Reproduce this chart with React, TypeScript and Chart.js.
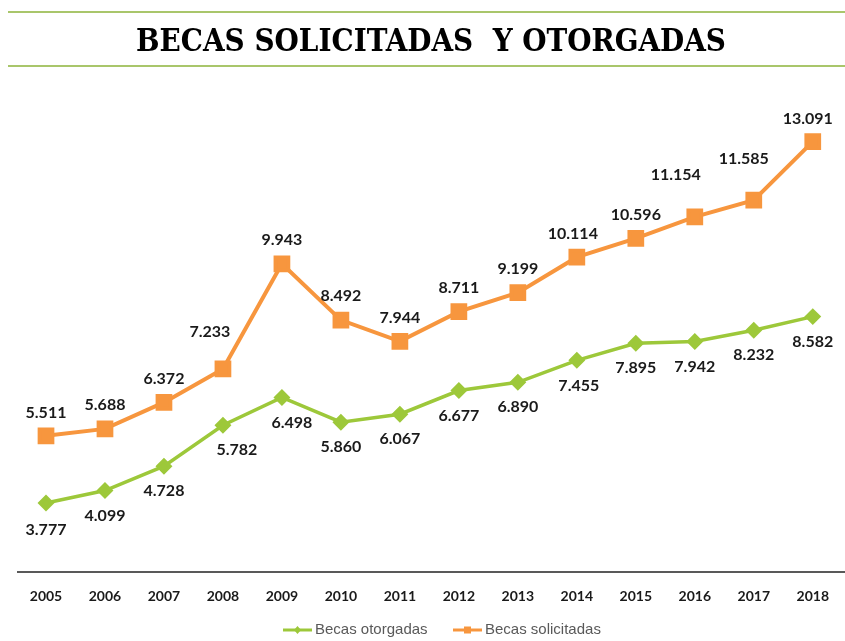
import React, { useEffect, useRef } from "react";
import { Chart, registerables } from "chart.js";

Chart.register(...registerables);

const years = ["2005","2006","2007","2008","2009","2010","2011","2012","2013","2014","2015","2016","2017","2018"];
const otorgadas = [3777, 4099, 4728, 5782, 6498, 5860, 6067, 6677, 6890, 7455, 7895, 7942, 8232, 8582];
const solicitadas = [5511, 5688, 6372, 7233, 9943, 8492, 7944, 8711, 9199, 10114, 10596, 11154, 11585, 13091];
const titleText = "BECAS SOLICITADAS  Y OTORGADAS";
const seriesNames = ["Becas otorgadas", "Becas solicitadas"];

const GREEN = "#9DC83A";
const ORANGE = "#F7963E";

const fmt = (v: number) => {
  const s = String(v);
  return s.length > 3 ? s.slice(0, s.length - 3) + "." + s.slice(s.length - 3) : s;
};

// label nudges per dataset (dx, dy) relative to point
const nudges: Record<string, [number, number]> = {
  "1-0": [0, -23], "1-3": [-13, -37], "1-9": [-4, -23], "1-11": [-19, -42],
  "1-12": [-10, -41], "1-13": [-5, -23],
  "0-0": [0, 27], "0-3": [14, 25], "0-4": [10, 25], "0-9": [2, 25],
};

const labelPlugin = {
  id: "valueLabels",
  afterDatasetsDraw(chart: any) {
    const ctx = chart.ctx;
    ctx.save();
    ctx.font = "bold 16px Lato, 'DejaVu Sans', sans-serif";
    ctx.fillStyle = "#1a1a1a";
    ctx.textAlign = "center";
    ctx.textBaseline = "middle";
    chart.data.datasets.forEach((ds: any, di: number) => {
      const meta = chart.getDatasetMeta(di);
      meta.data.forEach((pt: any, i: number) => {
        const def: [number, number] = di === 1 ? [0, -24] : [0, 25];
        const n = nudges[`${di}-${i}`] || def;
        ctx.fillText(fmt(ds.data[i]), pt.x + n[0], pt.y + n[1]);
      });
    });
    ctx.restore();
  },
};

const decorPlugin = {
  id: "decor",
  afterDraw(chart: any) {
    const ctx = chart.ctx;
    const w = chart.width;
    ctx.save();
    // title band lines
    ctx.strokeStyle = "#8DB33A";
    ctx.lineWidth = 1.5;
    [12, 66].forEach((y) => {
      ctx.beginPath();
      ctx.moveTo(8, y);
      ctx.lineTo(w, y);
      ctx.stroke();
    });
    // title
    ctx.fillStyle = "#000";
    ctx.font = "bold 31px 'DejaVu Serif Condensed', 'DejaVu Serif', serif";
    ctx.textAlign = "center";
    ctx.textBaseline = "middle";
    const tw = ctx.measureText(titleText).width;
    const target = 590;
    ctx.save();
    ctx.translate(431, 43);
    ctx.scale(target / tw, 1);
    ctx.fillText(titleText, 0, 0);
    ctx.restore();
    // axis line
    const yb = chart.chartArea.bottom;
    ctx.strokeStyle = "#595959";
    ctx.lineWidth = 2;
    ctx.beginPath();
    ctx.moveTo(17, yb);
    ctx.lineTo(w, yb);
    ctx.stroke();
    // legend
    const items = [
      { name: seriesNames[0], color: GREEN, x: 283, marker: "diamond" },
      { name: seriesNames[1], color: ORANGE, x: 453, marker: "square" },
    ];
    const ly = 630;
    ctx.font = "15px 'Liberation Sans Narrow', 'Arial Narrow', sans-serif";
    ctx.textAlign = "left";
    items.forEach((it) => {
      ctx.strokeStyle = it.color;
      ctx.fillStyle = it.color;
      ctx.lineWidth = 3;
      ctx.beginPath();
      ctx.moveTo(it.x, ly);
      ctx.lineTo(it.x + 29, ly);
      ctx.stroke();
      const cx = it.x + 14.5;
      ctx.beginPath();
      if (it.marker === "diamond") {
        ctx.moveTo(cx, ly - 4);
        ctx.lineTo(cx + 3.5, ly);
        ctx.lineTo(cx, ly + 4);
        ctx.lineTo(cx - 3.5, ly);
        ctx.closePath();
      } else {
        ctx.rect(cx - 3.5, ly - 3.5, 7, 7);
      }
      ctx.fill();
      ctx.fillStyle = "#595959";
      ctx.fillText(it.name, it.x + 32, ly);
    });
    ctx.restore();
  },
};

export default function App() {
  const ref = useRef<HTMLCanvasElement | null>(null);
  useEffect(() => {
    if (!ref.current) return;
    const chart = new Chart(ref.current, {
      type: "line",
      data: {
        labels: years,
        datasets: [
          {
            label: seriesNames[0],
            data: otorgadas,
            borderColor: GREEN,
            backgroundColor: GREEN,
            borderWidth: 3.5,
            pointStyle: "rectRot",
            pointRadius: 6,
            pointHoverRadius: 6,
            tension: 0,
          },
          {
            label: seriesNames[1],
            data: solicitadas,
            borderColor: ORANGE,
            backgroundColor: ORANGE,
            borderWidth: 4,
            pointStyle: "rect",
            pointRadius: 9,
            pointHoverRadius: 9,
            tension: 0,
          },
        ],
      },
      options: {
        animation: false,
        responsive: false,
        events: [],
        layout: { padding: { top: 87, left: 46, right: 27, bottom: 0 } },
        plugins: { legend: { display: false }, title: { display: false }, tooltip: { enabled: false } },
        scales: {
          x: {
            offset: false,
            grid: { display: false, drawTicks: false },
            border: { display: false },
            ticks: {
              padding: 16,
              color: "#1a1a1a",
              font: { family: "Lato, 'DejaVu Sans', sans-serif", size: 14, weight: "bold" },
              maxRotation: 0,
              autoSkip: false,
            },
            afterFit: (s: any) => { s.height = 69; },
          },
          y: {
            display: false,
            min: 2000,
            max: 14500,
          },
        },
      },
      plugins: [labelPlugin, decorPlugin],
    });
    return () => chart.destroy();
  }, []);
  return (
    <div style={{ position: "fixed", left: 0, top: 0, width: 845, height: 641, overflow: "hidden", background: "#fff" }}>
      <canvas ref={ref} width={845} height={641} style={{ display: "block" }} />
    </div>
  );
}
